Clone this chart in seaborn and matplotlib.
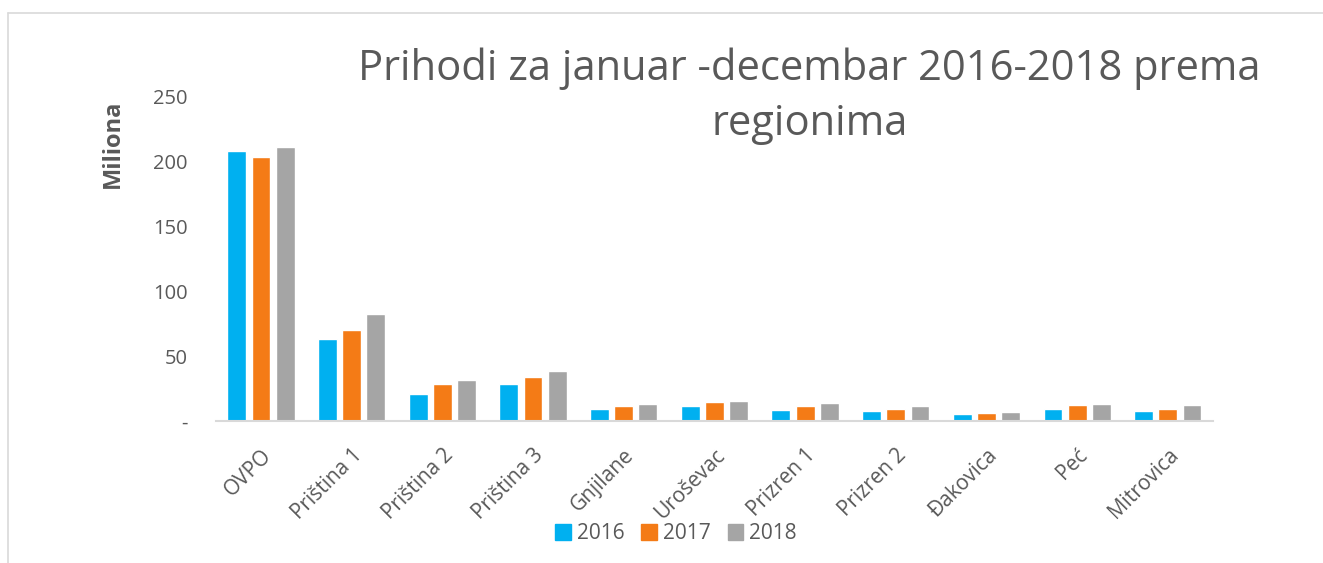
import pandas as pd
import numpy as np
import matplotlib
matplotlib.use("Agg")
import matplotlib.pyplot as plt
from matplotlib.lines import Line2D
import seaborn as sns

# Data (millions)
regions = ["OVPO", "Priština 1", "Priština 2", "Priština 3", "Gnjilane", "Uroševac",
           "Prizren 1", "Prizren 2", "Đakovica", "Peć", "Mitrovica"]
years = ["2016", "2017", "2018"]
v2016 = [208, 63, 21, 29, 9.7, 12, 8.8, 7.5, 5.7, 9.4, 7.5]
v2017 = [204, 70, 28.5, 34, 12, 14.4, 11.3, 9.7, 6.2, 12.5, 9.7]
v2018 = [211, 82.5, 32, 39, 13.4, 15.7, 13.6, 11.6, 7.2, 13.5, 12.8]
colors = ["#00B0F0", "#F47B16", "#A5A5A5"]

df = pd.DataFrame({
    "region": regions * 3,
    "year": [y for y in years for _ in regions],
    "value": v2016 + v2017 + v2018,
})

sns.set_style("white")
plt.rcParams['font.family'] = ['Open Sans', 'DejaVu Sans']
text_col = "#595959"

fig = plt.figure(figsize=(13.23, 5.63), dpi=100)
ax = fig.add_axes([0.163, 0.252, 0.754, 0.576])

sns.barplot(data=df, x="region", y="value", hue="year", palette=colors,
            width=0.8, gap=0.22, ax=ax, legend=False, saturation=1)

ax.set_ylim(0, 250)
ax.set_yticks([0, 50, 100, 150, 200, 250])
ax.set_yticklabels(["-", "50", "100", "150", "200", "250"])
ax.set_xlim(-0.5, len(regions) - 0.5)
ax.tick_params(axis="both", length=0, colors=text_col, labelsize=14.5)
ax.tick_params(axis="x", labelsize=15, pad=17)
ax.tick_params(axis="y", pad=20)
plt.setp(ax.get_xticklabels(), rotation=45, ha="right", va="top", rotation_mode="anchor")

for s in ["top", "right", "left"]:
    ax.spines[s].set_visible(False)
ax.spines["bottom"].set_color("#D9D9D9")
ax.spines["bottom"].set_linewidth(1.5)

ax.set_xlabel("")
ax.set_ylabel("Miliona", fontsize=17, fontweight="bold", color=text_col)
ax.yaxis.set_label_coords(-0.091, 0.855)

fig.text(0.612, 0.915, "Prihodi za januar -decembar 2016-2018 prema\nregionima",
         ha="center", va="top", fontsize=30, color=text_col, linespacing=1.38)

handles = [plt.Rectangle((0, 0), 1, 1, color=c) for c in colors]
fig.legend(handles, years, loc="center", bbox_to_anchor=(0.511, 0.052), ncol=3,
           frameon=False, fontsize=15, handlelength=0.75, handleheight=0.75,
           handletextpad=0.3, columnspacing=0.8, labelcolor=text_col)

# chart border (top and left edges visible)
fig.add_artist(Line2D([0.006, 1.0], [0.977, 0.977], color="#D9D9D9", lw=1.2,
                      transform=fig.transFigure))
fig.add_artist(Line2D([0.006, 0.006], [0.0, 0.977], color="#D9D9D9", lw=1.2,
                      transform=fig.transFigure))

fig.savefig("out.png", dpi=100)
